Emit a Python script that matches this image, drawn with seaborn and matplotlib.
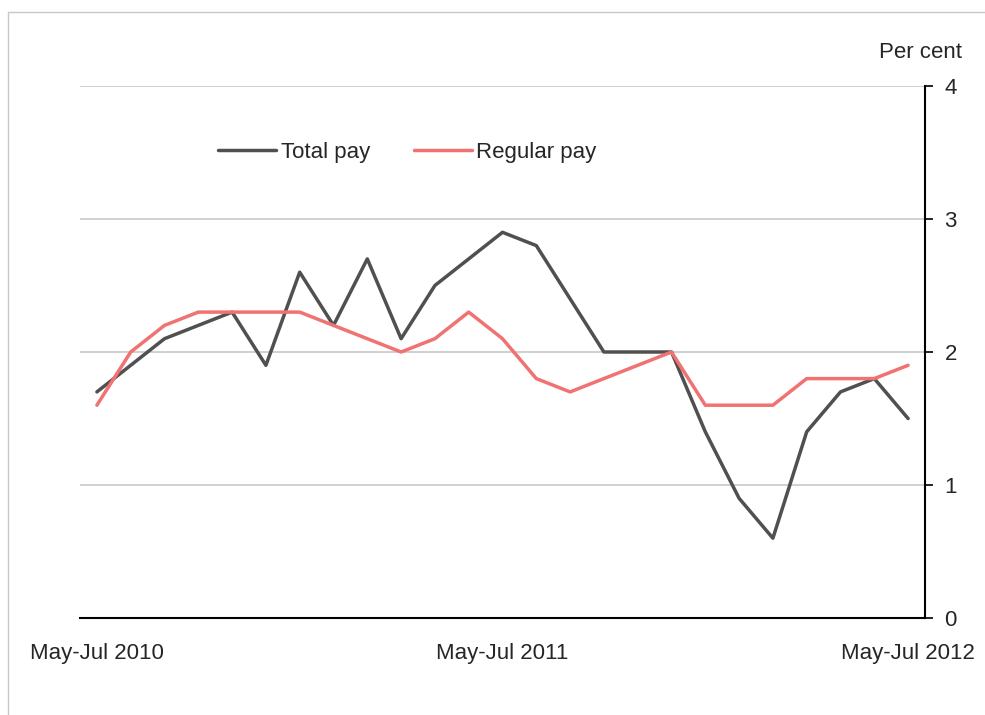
import pandas as pd
import seaborn as sns
import matplotlib.pyplot as plt
from matplotlib.lines import Line2D

periods = list(range(25))
tick_positions = [0, 12, 24]
tick_labels = ['May-Jul 2010', 'May-Jul 2011', 'May-Jul 2012']

total_pay = [1.7, 1.9, 2.1, 2.2, 2.3, 1.9, 2.6, 2.2, 2.7, 2.1, 2.5, 2.7, 2.9,
             2.8, 2.4, 2.0, 2.0, 2.0, 1.4, 0.9, 0.6, 1.4, 1.7, 1.8, 1.5]
regular_pay = [1.6, 2.0, 2.2, 2.3, 2.3, 2.3, 2.3, 2.2, 2.1, 2.0, 2.1, 2.3, 2.1,
               1.8, 1.7, 1.8, 1.9, 2.0, 1.6, 1.6, 1.6, 1.8, 1.8, 1.8, 1.9]

df = pd.concat([
    pd.DataFrame({'period': periods, 'value': total_pay, 'series': 'Total pay'}),
    pd.DataFrame({'period': periods, 'value': regular_pay, 'series': 'Regular pay'}),
])

sns.set_style('white')
plt.rcParams['font.family'] = ['Liberation Sans', 'DejaVu Sans']

fig = plt.figure(figsize=(9.85, 7.15), dpi=100)
ax = fig.add_axes([80 / 985, 1 - 618 / 715, 845 / 985, 532 / 715])

palette = {'Total pay': '#505050', 'Regular pay': '#f07272'}
sns.lineplot(data=df, x='period', y='value', hue='series', palette=palette,
             linewidth=2.5, ax=ax, legend=False)

ax.set_xlim(-0.5, 24.5)
ax.set_ylim(0, 4)
ax.set_yticks([0, 1, 2, 3, 4])
ax.set_xticks(tick_positions)
ax.set_xticklabels(tick_labels)
ax.set_xlabel('')
ax.set_ylabel('')
ax.yaxis.tick_right()
ax.tick_params(axis='y', direction='out', length=6, width=1.2, color='black',
               labelsize=16, pad=8, right=True)
ax.tick_params(axis='x', length=0, labelsize=16, pad=18)
ax.yaxis.grid(True, color='#c8c8c8', linewidth=1.2)
ax.set_axisbelow(True)
for side in ['left', 'top']:
    ax.spines[side].set_visible(False)
for side in ['right', 'bottom']:
    ax.spines[side].set_color('black')
    ax.spines[side].set_linewidth(1.5)

fig.text(962 / 985, 1 - 52 / 715, 'Per cent', ha='right', va='center', fontsize=16)

handles = [Line2D([], [], color=palette['Total pay'], lw=2.5),
           Line2D([], [], color=palette['Regular pay'], lw=2.5)]
ax.legend(handles, ['Total pay', 'Regular pay'], ncol=2, frameon=False,
          loc='center left', bbox_to_anchor=(0.14, 0.875), fontsize=16,
          handlelength=2.6, columnspacing=2.0, handletextpad=0.2)

# light frame around the image
fig.add_artist(Line2D([8 / 985, 8 / 985], [0, 1 - 12 / 715], color='#c8c8c8',
                      lw=1, transform=fig.transFigure))
fig.add_artist(Line2D([8 / 985, 1], [1 - 12 / 715, 1 - 12 / 715], color='#c8c8c8',
                      lw=1, transform=fig.transFigure))

fig.savefig('out.png', dpi=100)
